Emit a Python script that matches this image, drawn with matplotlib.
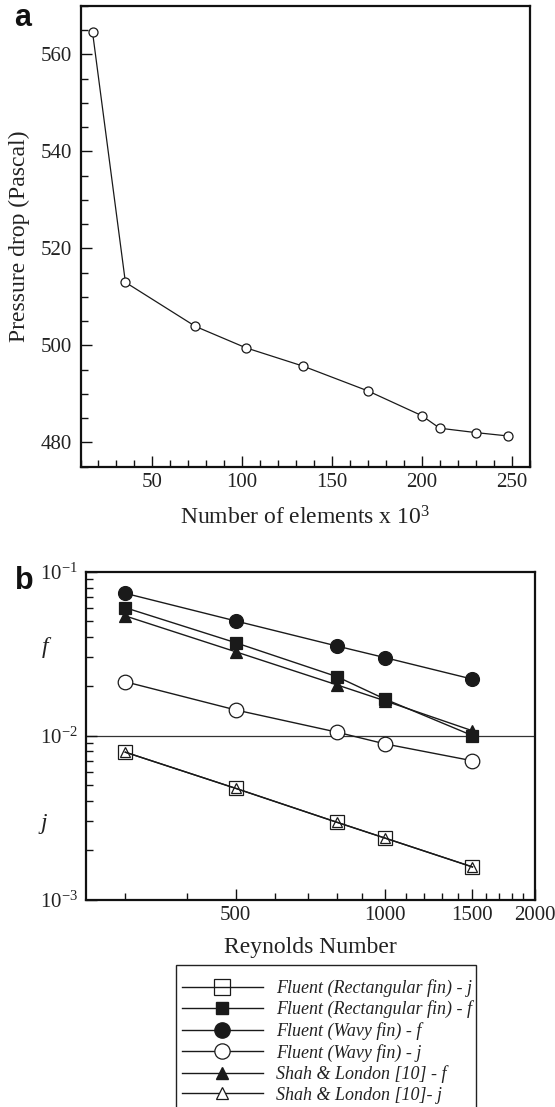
import matplotlib
matplotlib.use("Agg")
import matplotlib.pyplot as plt
from matplotlib.ticker import FixedLocator, FixedFormatter, LogLocator, LogFormatterSciNotation, NullFormatter, MultipleLocator
from matplotlib.lines import Line2D
from matplotlib.patches import Rectangle

# ---------------- data ----------------
# Panel a: grid independence
elements = [16.7, 35, 74, 102, 134, 170, 200, 210, 230, 248]
pressure_drop = [564.6, 513.0, 503.9, 499.5, 495.7, 490.6, 485.5, 482.9, 482.0, 481.3]

# Panel b: f and j factors vs Reynolds number
reynolds = [300, 500, 800, 1000, 1500]
wavy_f = [0.0738, 0.0501, 0.0352, 0.0299, 0.0221]
rect_f = [0.0603, 0.0369, 0.0229, 0.0167, 0.0100]
shah_f = [0.0537, 0.0325, 0.0204, 0.0163, 0.0107]
wavy_j = [0.0213, 0.01435, 0.0105, 0.0089, 0.00702]
rect_j = [0.00792, 0.00477, 0.00296, 0.00237, 0.00158]
shah_j = [0.00792, 0.00477, 0.00296, 0.00237, 0.00158]

legend_labels = [
    "Fluent (Rectangular fin) - j",
    "Fluent (Rectangular fin) - f",
    "Fluent (Wavy fin) - f",
    "Fluent (Wavy fin) - j",
    "Shah & London [10] - f",
    "Shah & London [10]- j",
]

# ---------------- style ----------------
plt.rcParams['font.family'] = ['Liberation Serif', 'DejaVu Serif']
plt.rcParams['mathtext.fontset'] = 'custom'
plt.rcParams['mathtext.rm'] = 'Liberation Serif'
plt.rcParams['mathtext.it'] = 'Liberation Serif:italic'
plt.rcParams['mathtext.bf'] = 'Liberation Serif:bold'

W, H = 555, 1107
fig = plt.figure(figsize=(W / 100, H / 100), dpi=100)
LC = '#1a1a1a'
TC = '#222222'


def fx(px):
    return px / W


def fy(py):
    return 1 - py / H


def style_axes(ax):
    for s in ax.spines.values():
        s.set_linewidth(1.6)
        s.set_color('#111111')
    ax.tick_params(which='both', direction='in', top=False, right=False,
                   colors='#111111', labelcolor=TC, labelsize=15)
    ax.tick_params(which='major', length=8, width=1.0)
    ax.tick_params(which='minor', length=5, width=1.0)


# ---------------- panel a ----------------
l, r, t, b = 80.5, 529.5, 6, 466.5
axa = fig.add_axes([fx(l), fy(b), (r - l) / W, (b - t) / H])
axa.plot(elements, pressure_drop, '-', color=LC, lw=0.9, marker='o', ms=6.5,
         mfc='white', mec=LC, mew=0.9)
axa.set_xlim(10, 260)
axa.set_ylim(475, 570)
axa.xaxis.set_major_locator(FixedLocator([50, 100, 150, 200, 250]))
axa.xaxis.set_minor_locator(MultipleLocator(10))
axa.yaxis.set_major_locator(FixedLocator([480, 500, 520, 540, 560]))
axa.yaxis.set_minor_locator(MultipleLocator(5))
style_axes(axa)
axa.tick_params(axis='y', pad=6)
axa.tick_params(axis='x', pad=5)
axa.set_xlabel(r"Number of elements x 10$^3$", fontsize=17, color=TC, labelpad=10)
axa.set_ylabel("Pressure drop (Pascal)", fontsize=17, color=TC, labelpad=8)
fig.text(fx(23), fy(18.5), "a", fontsize=22, fontweight='bold',
         family='Liberation Sans', ha='center', va='center', color='#111111')

# ---------------- panel b ----------------
l, r, t, b = 86, 534.5, 571.7, 899.5
axb = fig.add_axes([fx(l), fy(b), (r - l) / W, (b - t) / H])
axb.set_xscale('log')
axb.set_yscale('log')
axb.set_xlim(250, 2000)
axb.set_ylim(1e-3, 1e-1)

axb.axhline(1e-2, color='#333333', lw=0.9, zorder=1)

mk = dict(color=LC, lw=1.0, mec=LC, mew=0.9)
axb.plot(reynolds, rect_j, '-', marker='s', ms=10, mfc='none', **mk)
axb.plot(reynolds, rect_f, '-', marker='s', ms=8, mfc=LC, **mk)
axb.plot(reynolds, wavy_f, '-', marker='o', ms=10, mfc=LC, **mk)
axb.plot(reynolds, wavy_j, '-', marker='o', ms=10.5, mfc='white', **mk)
axb.plot(reynolds, shah_f, '-', marker='^', ms=8.5, mfc=LC, **mk)
axb.plot(reynolds, shah_j, '-', marker='^', ms=7, mfc='none', **mk)

axb.xaxis.set_major_locator(FixedLocator([500, 1000, 1500, 2000]))
axb.xaxis.set_major_formatter(FixedFormatter(['500', '1000', '1500', '2000']))
axb.xaxis.set_minor_locator(FixedLocator([v for v in range(300, 2000, 100) if v not in (500, 1000, 1500)]))
axb.xaxis.set_minor_formatter(NullFormatter())
axb.yaxis.set_major_locator(LogLocator(base=10, numticks=10))
axb.yaxis.set_major_formatter(LogFormatterSciNotation())
axb.yaxis.set_minor_locator(LogLocator(base=10, subs=range(2, 10), numticks=20))
axb.yaxis.set_minor_formatter(NullFormatter())
style_axes(axb)
axb.tick_params(axis='y', pad=6)
axb.tick_params(axis='x', pad=5)
axb.set_xlabel("Reynolds Number", fontsize=17, color=TC, labelpad=8)

fig.text(fx(45), fy(648), "f", fontsize=17, style='italic', ha='center', va='center', color=TC)
fig.text(fx(44), fy(823), "j", fontsize=17, style='italic', ha='center', va='center', color=TC)
fig.text(fx(24.5), fy(581), "b", fontsize=22, fontweight='bold',
         family='Liberation Sans', ha='center', va='center', color='#111111')

# legend
handles = [
    Line2D([], [], color=LC, lw=1.0, marker='s', ms=11, mfc='none', mec=LC, mew=0.9),
    Line2D([], [], color=LC, lw=1.0, marker='s', ms=8.5, mfc=LC, mec=LC),
    Line2D([], [], color=LC, lw=1.0, marker='o', ms=11, mfc=LC, mec=LC),
    Line2D([], [], color=LC, lw=1.0, marker='o', ms=11, mfc='white', mec=LC, mew=0.9),
    Line2D([], [], color=LC, lw=1.0, marker='^', ms=9, mfc=LC, mec=LC),
    Line2D([], [], color=LC, lw=1.0, marker='^', ms=8, mfc='white', mec=LC, mew=0.9),
]
leg = fig.legend(handles, legend_labels, loc='upper left',
                 bbox_to_anchor=(fx(181.5), fy(979)), borderaxespad=0,
                 prop={'family': 'Liberation Serif', 'style': 'italic', 'size': 13},
                 handlelength=4.5, handletextpad=0.72, borderpad=0,
                 labelspacing=0.2, frameon=False)
for txt in leg.get_texts():
    txt.set_color(TC)

frame = Rectangle((fx(176), fy(1115)), (476 - 176) / W, (1115 - 965) / H,
                  transform=fig.transFigure, fill=False, edgecolor='#222222',
                  linewidth=1.0, clip_on=False)
fig.add_artist(frame)

fig.savefig("out.png", dpi=100)
